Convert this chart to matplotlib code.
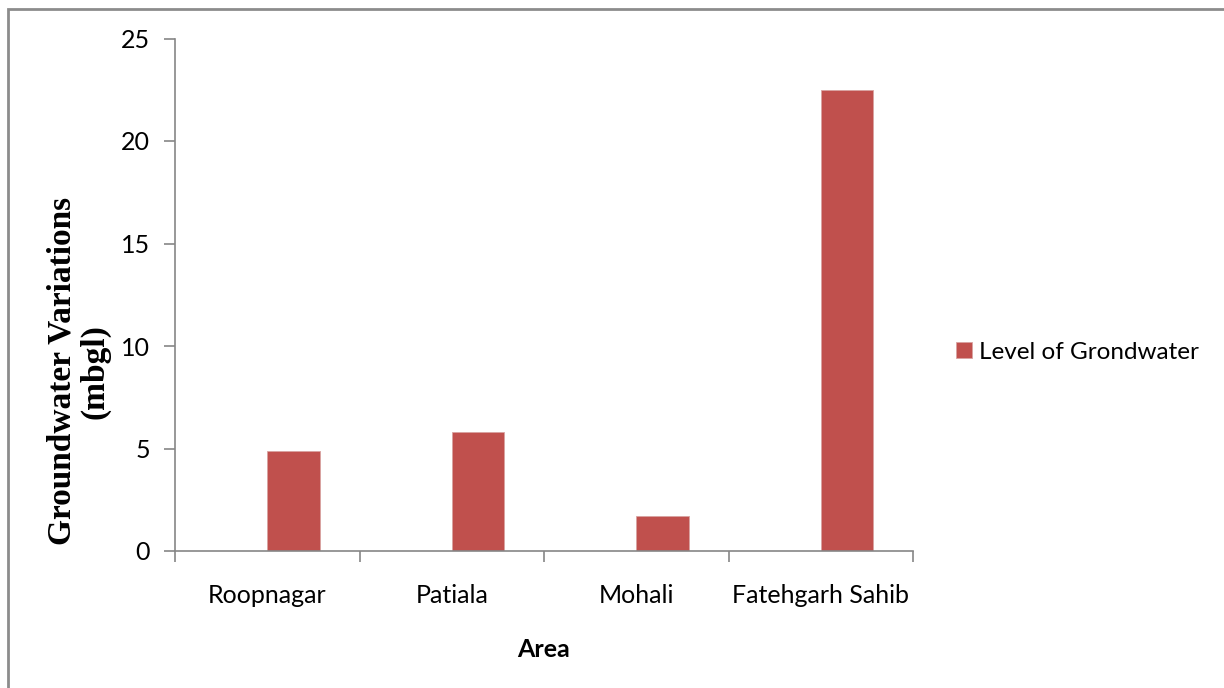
"""Groundwater level by area, single-series column chart."""
import matplotlib.pyplot as plt
from matplotlib.patches import Rectangle
import numpy as np

areas = ["Roopnagar", "Patiala", "Mohali", "Fatehgarh Sahib"]
groundwater_level = [4.9, 5.8, 1.7, 22.5]
series_name = "Level of Grondwater"
y_ticks = [0, 5, 10, 15, 20, 25]

BAR = "#C0504D"
AXIS = "#868686"

plt.rcParams["font.family"] = ["Lato", "DejaVu Sans"]

fig = plt.figure(figsize=(12.24, 6.88), dpi=100)
ax = fig.add_axes([175 / 1224, 1 - 551 / 688, (913 - 175) / 1224, (551 - 38.5) / 688])

x = np.arange(len(areas))
# bars sit in the right half of each category slot
ax.bar(x, groundwater_level, width=0.285, align="edge", color=BAR,
       edgecolor="#D9A3A1", linewidth=0.6, label=series_name)

ax.set_xlim(-0.5, len(areas) - 0.5)
ax.set_ylim(0, 25)
ax.set_yticks(y_ticks)
ax.set_xticks(x, areas)
ax.set_xticks(np.arange(len(areas) + 1) - 0.5, minor=True)
ax.tick_params(axis="x", which="major", length=0, pad=24, labelsize=18)
ax.tick_params(axis="x", which="minor", length=8, width=1.2, color=AXIS)
ax.tick_params(axis="y", length=8, width=1.2, color=AXIS, labelsize=18, pad=10)

for side in ["top", "right"]:
    ax.spines[side].set_visible(False)
for side in ["left", "bottom"]:
    ax.spines[side].set_color(AXIS)
    ax.spines[side].set_linewidth(1.2)

ax.set_xlabel("Area", fontsize=18, fontweight="bold", labelpad=22)
ax.set_ylabel("Groundwater Variations\n(mbgl)", family=["Liberation Serif"],
              fontsize=24, fontweight="bold", linespacing=1.05, va="center")
ax.yaxis.set_label_coords(-0.131, 0.351)

ax.legend(loc="center left", bbox_to_anchor=(0.781, 0.488),
          bbox_transform=fig.transFigure, frameon=False, fontsize=17.5,
          handlelength=0.65, handleheight=0.65, handletextpad=0.3,
          borderaxespad=0, borderpad=0)

# chart area frame
fig.patches.append(Rectangle((8 / 1224, -0.1), 1.2, 1 - 9 / 688 + 0.1,
                             transform=fig.transFigure, fill=False,
                             edgecolor="#8C8C8C", linewidth=2))

fig.savefig("out.png", dpi=100, facecolor="white")
